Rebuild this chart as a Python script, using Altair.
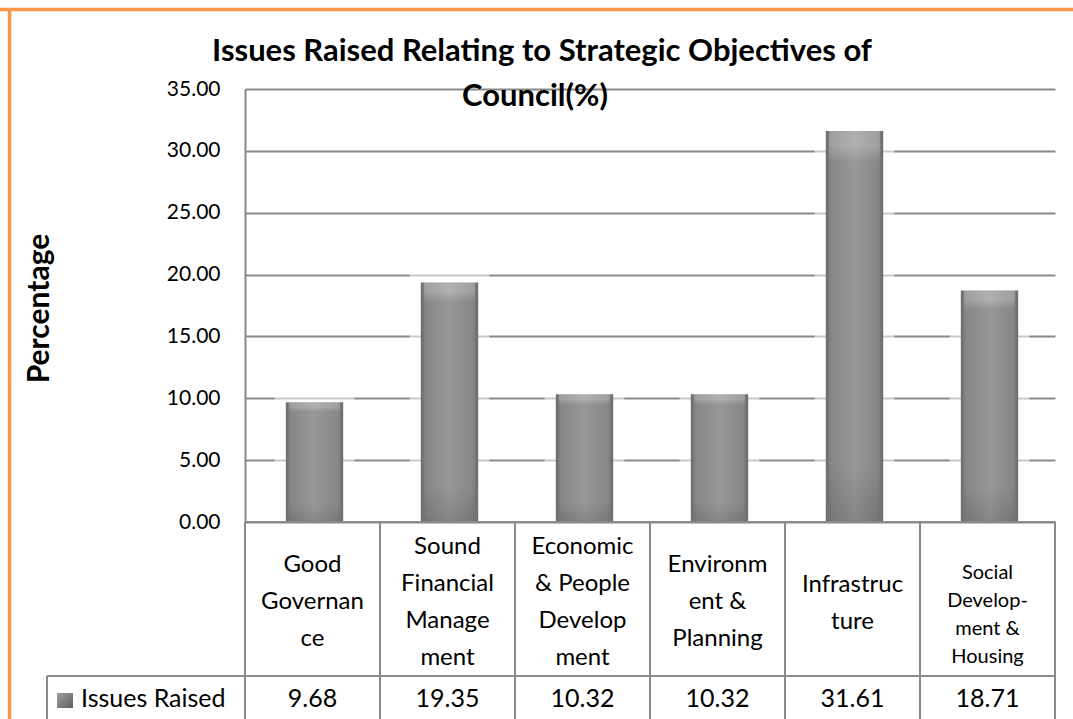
import altair as alt
import pandas as pd

# Issues raised per strategic objective of council (%)
categories = [
    "Good Governance",
    "Sound Financial Management",
    "Economic & People Development",
    "Environment & Planning",
    "Infrastructure",
    "Social Development & Housing",
]
values = [9.68, 19.35, 10.32, 10.32, 31.61, 18.71]
# wrapped category labels as they appear in the data table row
label_lines = [
    "Good\nGovernan\nce",
    "Sound\nFinancial\nManage\nment",
    "Economic\n& People\nDevelop\nment",
    "Environm\nent &\nPlanning",
    "Infrastruc\nture",
    "Social\nDevelop-\nment &\nHousing",
]
series_name = "Issues Raised"
y_ticks = [0, 5, 10, 15, 20, 25, 30, 35]

title_line1 = "Issues Raised Relating to Strategic Objectives of"
title_line2 = "Council(%)"

W, H = 810, 433
FONT = "Lato"
GRID = "#8a8a8a"
ORANGE = "#F79646"

df = pd.DataFrame({"category": categories, "value": values, "label": label_lines})
df["nlines"] = [s.count("\n") + 1 for s in label_lines]
df["small"] = [False, False, False, False, False, True]

band_scale = alt.Scale(domain=categories, paddingInner=0, paddingOuter=0)
x_enc = alt.X("category:N", sort=categories, scale=band_scale, axis=None)
y_scale = alt.Scale(domain=[0, 35], nice=False)

base = alt.Chart(df)

# lightened depth behind each column (softens the gridlines like a 3-D back face)
depth = base.transform_calculate(top="datum.value + 0.8").mark_bar(
    width={"band": 0.59}, color="#ffffff", opacity=0.55, xOffset=2
).encode(
    x=x_enc,
    y=alt.Y(
        "top:Q",
        scale=y_scale,
        axis=alt.Axis(
            values=y_ticks,
            format=".2f",
            title="Percentage",
            titleFont=FONT,
            titleFontSize=30,
            titleFontWeight="bold",
            titleColor="#000000",
            titleAngle=270,
            titleAlign="center",
            titleBaseline="middle",
            titleX=-206,
            titleY=219,
            labelFont=FONT,
            labelFontSize=21,
            labelColor="#000000",
            labelPadding=25,
            ticks=False,
            domainColor=GRID,
            domainWidth=2,
            grid=True,
            gridColor=GRID,
            gridWidth=2,
        ),
    ),
    y2=alt.datum(0),
)

bar_fill = alt.Gradient(
    gradient="linear",
    x1=0, x2=1, y1=0, y2=0,
    stops=[
        alt.GradientStop(offset=0, color="#6a6a6a"),
        alt.GradientStop(offset=0.1, color="#858585"),
        alt.GradientStop(offset=0.5, color="#9a9a9a"),
        alt.GradientStop(offset=0.9, color="#858585"),
        alt.GradientStop(offset=1, color="#6a6a6a"),
    ],
)
bars = base.mark_bar(width={"band": 0.425}, color=bar_fill, xOffset=2).encode(
    x=x_enc, y=alt.Y("value:Q", scale=y_scale), y2=alt.datum(0)
)

shade_fill = alt.Gradient(
    gradient="linear",
    x1=0, x2=0, y1=0, y2=1,
    stops=[
        alt.GradientStop(offset=0, color="#ffffff"),
        alt.GradientStop(offset=0.04, color="#ffffff"),
        alt.GradientStop(offset=0.08, color="#909090"),
        alt.GradientStop(offset=0.85, color="#909090"),
        alt.GradientStop(offset=1, color="#404040"),
    ],
)
shade = base.mark_bar(
    width={"band": 0.38}, color=shade_fill, opacity=0.22, xOffset=2
).encode(x=x_enc, y=alt.Y("value:Q", scale=y_scale), y2=alt.datum(0))

one = pd.DataFrame({"k": [0]})

# data table: grid lines
table_top = alt.Chart(one).mark_rule(color=GRID, strokeWidth=2).encode(
    x=alt.value(0), x2=alt.value(W), y=alt.value(H)
)
value_row_top = alt.Chart(one).mark_rule(color=GRID, strokeWidth=2).encode(
    x=alt.value(-198), x2=alt.value(W), y=alt.value(587)
)
value_row_left = alt.Chart(one).mark_rule(color=GRID, strokeWidth=2).encode(
    x=alt.value(-198), y=alt.value(587), y2=alt.value(640)
)
col_left = base.mark_rule(color=GRID, strokeWidth=2).encode(
    x=alt.X("category:N", sort=categories, bandPosition=0, scale=band_scale, axis=None),
    y=alt.value(H), y2=alt.value(640),
)
col_right = base.mark_rule(color=GRID, strokeWidth=2).encode(
    x=alt.X("category:N", sort=categories, bandPosition=1, scale=band_scale, axis=None),
    y=alt.value(H), y2=alt.value(640),
)


def header_labels(n, small, first_line_y, size, line_height):
    """Category labels with n wrapped lines, first line centred at first_line_y."""
    cond = f"datum.nlines == {n} && {'datum.small' if small else '!datum.small'}"
    return base.transform_filter(cond).mark_text(
        font=FONT, fontSize=size, lineBreak="\n", lineHeight=line_height,
        baseline="middle", align="center", color="#000000",
    ).encode(x=x_enc, y=alt.value(first_line_y), text="label:N")


cat_2 = header_labels(2, False, 496, 24, 37)
cat_3 = header_labels(3, False, 476, 24, 37)
cat_4 = header_labels(4, False, 458, 24, 37)
cat_4s = header_labels(4, True, 484, 20, 28)

# value row
val_text = base.mark_text(
    font=FONT, fontSize=25, baseline="middle", align="center", color="#000000"
).encode(x=x_enc, y=alt.value(610), text=alt.Text("value:Q", format=".2f"))

# series key in the value row
key_fill = alt.Gradient(
    gradient="linear", x1=0, x2=1, y1=0, y2=1,
    stops=[
        alt.GradientStop(offset=0, color="#a0a0a0"),
        alt.GradientStop(offset=1, color="#5e5e5e"),
    ],
)
key_df = pd.DataFrame({"name": [series_name]})
key_box = alt.Chart(key_df).mark_rect(color=key_fill).encode(
    x=alt.value(-188), x2=alt.value(-172), y=alt.value(604), y2=alt.value(619)
)
key_text = alt.Chart(key_df).mark_text(
    font=FONT, fontSize=25, baseline="middle", align="left", color="#000000"
).encode(x=alt.value(-164), y=alt.value(610), text="name:N")

# chart title (two lines)
title_df = pd.DataFrame({"t1": [title_line1], "t2": [title_line2]})
title1 = alt.Chart(title_df).mark_text(
    font=FONT, fontSize=31, fontWeight="bold", align="center", baseline="middle",
    color="#000000",
).encode(x=alt.value(297), y=alt.value(-37), text="t1:N")
title2 = alt.Chart(title_df).mark_text(
    font=FONT, fontSize=31, fontWeight="bold", align="center", baseline="middle",
    color="#000000",
).encode(x=alt.value(290), y=alt.value(8), text="t2:N")

# orange frame around the chart
frame_top = alt.Chart(one).mark_rule(color=ORANGE, strokeWidth=3.5).encode(
    x=alt.value(-245), x2=alt.value(W + 30), y=alt.value(-79.5)
)
frame_left = alt.Chart(one).mark_rule(color=ORANGE, strokeWidth=3.5).encode(
    x=alt.value(-235.5), y=alt.value(-81), y2=alt.value(650)
)

chart = (
    alt.layer(
        depth, bars, shade,
        table_top, value_row_top, value_row_left, col_left, col_right,
        cat_2, cat_3, cat_4, cat_4s, val_text, key_box, key_text,
        title1, title2, frame_top, frame_left,
    )
    .properties(
        width=W,
        height=H,
        autosize=alt.AutoSizeParams(type="none"),
        padding={"left": 245, "top": 89, "right": 18, "bottom": 197},
        background="#ffffff",
    )
    .configure_view(stroke=None)
)

chart.save("out.html", embed_options={"renderer": "svg", "actions": False})
